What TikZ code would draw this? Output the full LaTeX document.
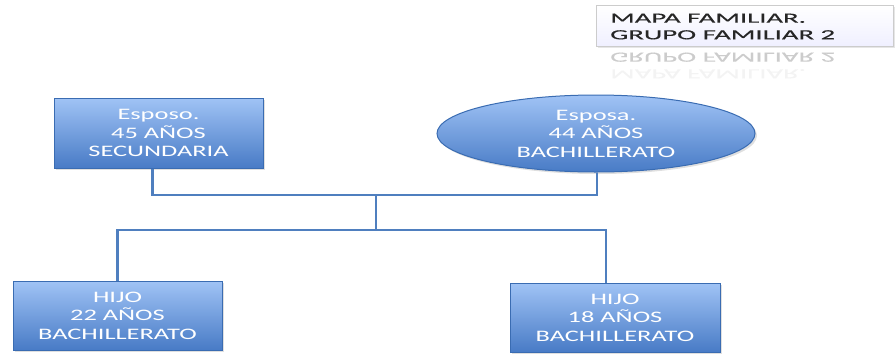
\documentclass[tikz,border=0pt]{standalone}
\usepackage{fontspec}
\usetikzlibrary{shapes.geometric,shadows}
\newfontfamily\boxfont{Carlito}[FakeStretch=1.65]
\newfontfamily\titlefont{Carlito}[FakeStretch=2.05, FakeBold=0.4]
\definecolor{boxtop}{HTML}{A0C3F5}
\definecolor{boxbot}{HTML}{487BC6}
\definecolor{boxline}{HTML}{3A6CB2}
\definecolor{linkline}{HTML}{4F7FBF}
\tikzset{
  member/.style={draw=boxline, line width=1pt, top color=boxtop, bottom color=boxbot,
    text=white, align=center, inner sep=0pt,
    font=\boxfont\fontsize{16}{18.5}\selectfont,
    drop shadow={opacity=0.25, shadow xshift=2pt, shadow yshift=-2pt}},
  memberbox/.style={member, rectangle},
  memberoval/.style={member, ellipse},
  link/.style={draw=linkline, line width=2.6pt},
  titlebox/.style={draw=black!20, line width=0.8pt, top color=white, bottom color=blue!6,
    drop shadow={opacity=0.2, shadow xshift=2pt, shadow yshift=-2pt}},
  titletext/.style={anchor=base west, inner sep=0pt,
    font=\titlefont\fontsize{14}{16}\selectfont}
}
\begin{document}
\begin{tikzpicture}[x=1pt,y=-1pt]
  \useasboundingbox (0,0) rectangle (896,354);
  % title card with its mirrored reflection
  \node[titlebox, minimum width=297pt, minimum height=41pt, inner sep=0pt] (title) at (744.5,25.5) {};
  \node[titletext, text=black!85] (t1) at (610,22.7) {MAPA FAMILIAR.};
  \node[titletext, text=black!85] (t2) at (610,39.3) {GRUPO FAMILIAR 2};
  \begin{scope}[yshift=-92pt, yscale=-1]
    \node[titletext, text=black!20, transform shape] (r2) at (610,39.3) {GRUPO FAMILIAR 2};
    \node[titletext, text=black!9, transform shape] (r1) at (610,22.7) {MAPA FAMILIAR.};
  \end{scope}
  \fill[white, opacity=0.5] (600,64) rectangle (896,80);
  % parents
  \node[memberbox, minimum width=209pt, minimum height=70pt] (esposo) at (158.5,133)
    {Esposo.\\45 AÑOS\\SECUNDARIA};
  \node[memberoval, minimum width=318pt, minimum height=77pt] (esposa) at (596,133.5)
    {Esposa.\\44 AÑOS\\BACHILLERATO};
  % children
  \node[memberbox, minimum width=209pt, minimum height=69pt] (hijoA) at (117.5,315.5)
    {HIJO\\22 AÑOS\\BACHILLERATO};
  \node[memberbox, minimum width=210pt, minimum height=69pt] (hijoB) at (615,317.5)
    {HIJO\\18 AÑOS\\BACHILLERATO};
  % connectors
  \coordinate (couple) at (376,195);
  \coordinate (kids) at (376,230);
  \draw[link] ([xshift=-6pt]esposo.south) |- (couple) -| ([xshift=1pt]esposa.south);
  \draw[link] (couple) -- (kids);
  \draw[link] (hijoA.north) |- (kids) -| ([xshift=-9pt]hijoB.north);
\end{tikzpicture}
\end{document}
